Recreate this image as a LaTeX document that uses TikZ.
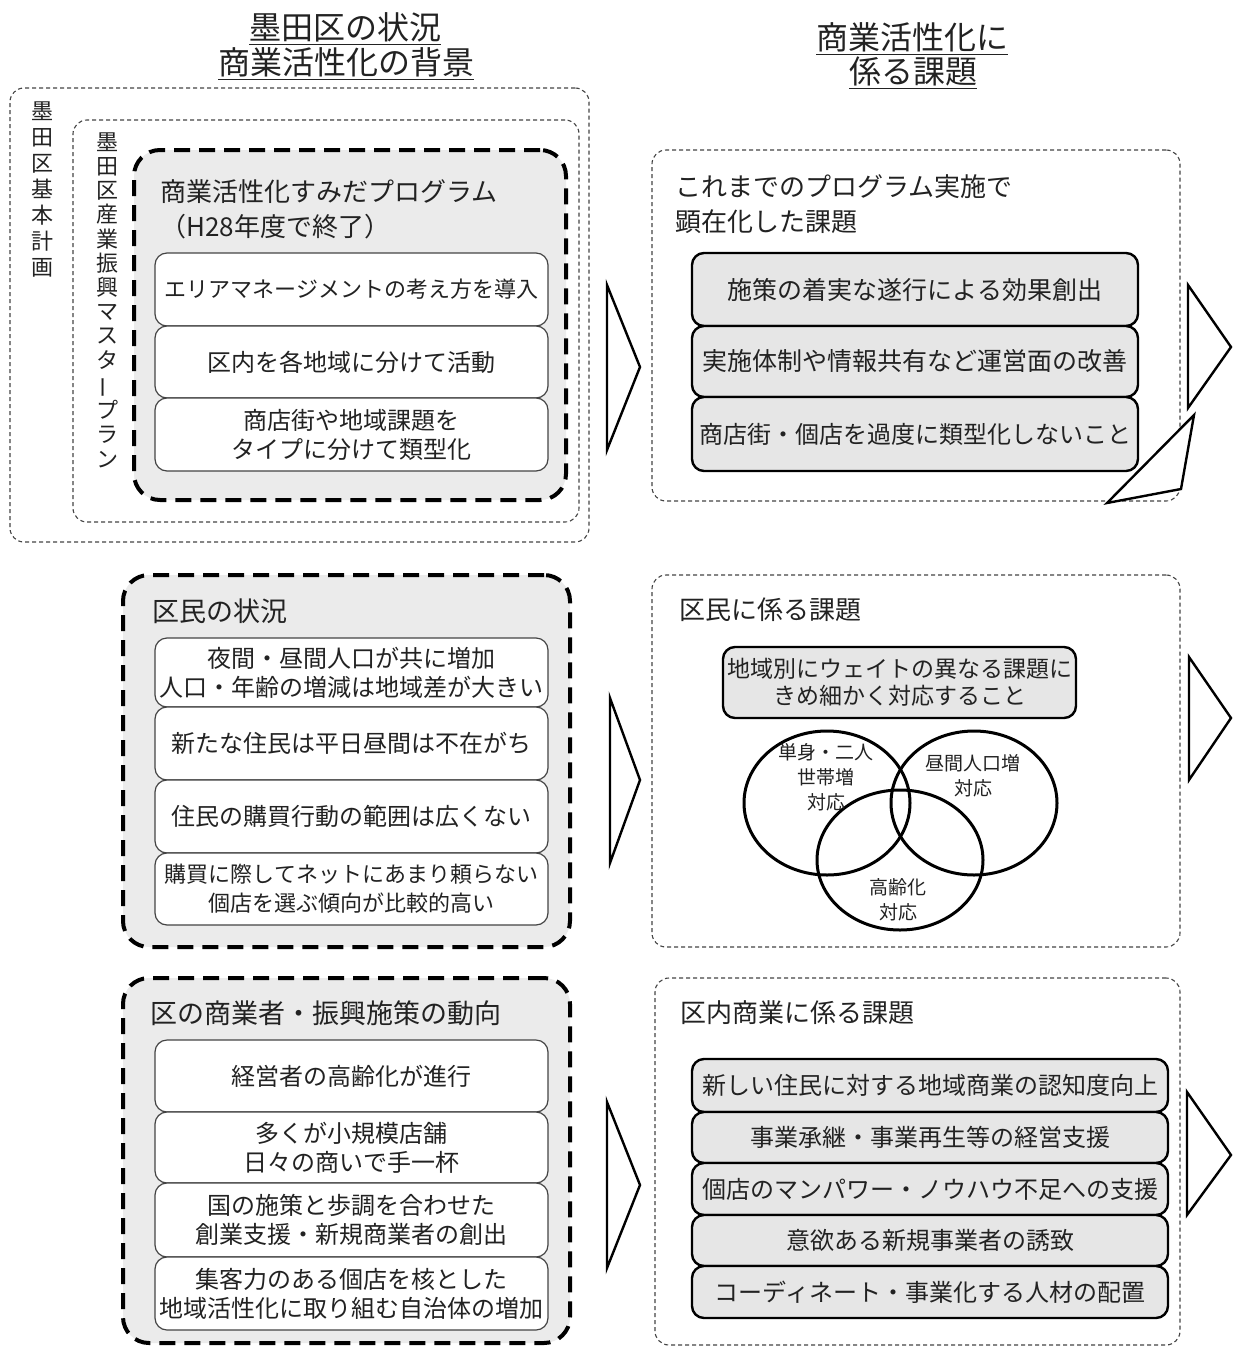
\documentclass[tikz,border=0pt]{standalone}
\usepackage{fontspec}
\setmainfont{Noto Sans CJK JP}
\usetikzlibrary{shapes.geometric}
\definecolor{ink}{HTML}{222222}
\definecolor{panel}{HTML}{EBEBEB}
\definecolor{issue}{HTML}{E6E6E6}
\definecolor{thinline}{HTML}{444444}
\newcommand\pxbox[7]{%
  \pgfmathsetmacro\pxbw{(#4-#2)*0.5}%
  \pgfmathsetmacro\pxbh{(#5-#3)*0.5}%
  \node[#6, minimum width=\pxbw pt, minimum height=\pxbh pt] (#1) at ({(#2+#4)/2},{(#3+#5)/2}) {#7};}
\tikzset{
  frame/.style={draw=thinline, line width=0.55pt, dash pattern=on 2pt off 1.5pt, rounded corners=7pt, inner sep=0pt},
  panelbox/.style={draw=black, fill=panel, line width=2pt, dash pattern=on 8pt off 4.5pt, rounded corners=13pt, inner sep=0pt},
  item/.style={draw=thinline, fill=white, line width=0.6pt, rounded corners=6pt, inner sep=0pt, align=center, font=\fontsize{12}{14.5}\selectfont, text=ink},
  issuebox/.style={draw=black, fill=issue, line width=1.2pt, rounded corners=6pt, inner sep=0pt, align=center, font=\fontsize{12}{14.5}\selectfont, text=ink},
  heading/.style={font=\fontsize{16}{18}\selectfont, text=ink, inner sep=0pt},
  boxtitle/.style={anchor=west, align=left, font=\fontsize{13}{17.5}\selectfont, text=ink, inner sep=0pt},
  arrowtri/.style={draw=black, fill=white, line width=1.2pt, line join=miter},
  venn/.style={ellipse, draw=black, line width=1.5pt, inner sep=0pt},
  vlabel/.style={font=\fontsize{9.5}{12.5}\selectfont, text=ink, align=center, inner sep=0pt},
  vtext/.style={align=center, text=ink, inner sep=0pt}
}
\begin{document}
\begin{tikzpicture}[x=0.5pt, y=-0.5pt]
\useasboundingbox[fill=white] (0,0) rectangle (1232,1349);

% headings
\node[heading] (hl1) at (345,29) {\underline{墨田区の状況}};
\node[heading] (hl2) at (346,64) {\underline{商業活性化の背景}};
\node[heading] (hr1) at (912,39) {\underline{商業活性化に}};
\node[heading] (hr2) at (913,73) {\underline{係る課題}};

% ---------- row 1 left ----------
\pxbox{plan1}{10}{88}{589}{542}{frame}{}
\pxbox{plan2}{73}{120}{579}{522}{frame}{}
\node[vtext, font=\fontsize{11}{13}\selectfont] (plan1label) at (43,190) {墨\\田\\区\\基\\本\\計\\画};
\node[vtext, font=\fontsize{11}{12.1}\selectfont] (plan2label) at (107,300) {墨\\田\\区\\産\\業\\振\\興\\マ\\ス\\タ\\\rotatebox[origin=c]{90}{ー}\\プ\\ラ\\ン};
\pxbox{prog}{134}{150}{566}{500}{panelbox}{}
\node[boxtitle] (progtitle) at (160,209) {商業活性化すみだプログラム\\（H28年度で終了）};
\pxbox{p1}{155}{253}{548}{326}{item, font=\fontsize{11}{14}\selectfont}{エリアマネージメントの考え方を導入}
\pxbox{p2}{155}{326}{548}{398}{item}{区内を各地域に分けて活動}
\pxbox{p3}{155}{398}{548}{471}{item}{商店街や地域課題を\\タイプに分けて類型化}

% ---------- row 1 right ----------
\pxbox{iss1}{652}{150}{1180}{501}{frame}{}
\node[boxtitle] (iss1title) at (675,204) {これまでのプログラム実施で\\顕在化した課題};
\pxbox{i1}{692}{253}{1138}{326}{issuebox, font=\fontsize{12.5}{15}\selectfont}{施策の着実な遂行による効果創出}
\pxbox{i2}{692}{326}{1138}{397}{issuebox, font=\fontsize{12.5}{15}\selectfont}{実施体制や情報共有など運営面の改善}
\pxbox{i3}{692}{397}{1138}{471}{issuebox}{商店街・個店を過度に類型化しないこと}

% ---------- row 2 left ----------
\pxbox{resid}{123}{575}{570}{947}{panelbox}{}
\node[boxtitle, font=\fontsize{13.5}{17.5}\selectfont] (residtitle) at (152,611) {区民の状況};
\pxbox{r1}{155}{638}{548}{707}{item}{夜間・昼間人口が共に増加\\人口・年齢の増減は地域差が大きい}
\pxbox{r2}{155}{707}{548}{780}{item}{新たな住民は平日昼間は不在がち}
\pxbox{r3}{155}{780}{548}{853}{item}{住民の購買行動の範囲は広くない}
\pxbox{r4}{155}{853}{548}{925}{item, font=\fontsize{11}{14.5}\selectfont}{購買に際してネットにあまり頼らない\\個店を選ぶ傾向が比較的高い}

% ---------- row 2 right ----------
\pxbox{iss2}{652}{575}{1180}{947}{frame}{}
\node[boxtitle] (iss2title) at (679,610) {区民に係る課題};
\pxbox{i21}{723}{647}{1076}{718}{issuebox, font=\fontsize{11.5}{13.5}\selectfont}{地域別にウェイトの異なる課題に\\きめ細かく対応すること}
\node[venn, minimum width=83pt, minimum height=72pt] (va) at (827,803) {};
\node[venn, minimum width=83pt, minimum height=72pt] (vb) at (974,803) {};
\node[venn, minimum width=83pt, minimum height=70pt] (vc) at (900,860) {};
\node[vlabel] (vla) at (826,777) {単身・二人\\世帯増\\対応};
\node[vlabel] (vlb) at (973,776) {昼間人口増\\対応};
\node[vlabel] (vlc) at (898,900) {高齢化\\対応};

% ---------- row 3 left ----------
\pxbox{comm}{123}{978}{570}{1343}{panelbox}{}
\node[boxtitle, font=\fontsize{13.5}{17.5}\selectfont] (commtitle) at (150,1013) {区の商業者・振興施策の動向};
\pxbox{c1}{155}{1040}{548}{1112}{item}{経営者の高齢化が進行}
\pxbox{c2}{155}{1112}{548}{1183}{item}{多くが小規模店舗\\日々の商いで手一杯}
\pxbox{c3}{155}{1183}{548}{1257}{item}{国の施策と歩調を合わせた\\創業支援・新規商業者の創出}
\pxbox{c4}{155}{1257}{548}{1330}{item}{集客力のある個店を核とした\\地域活性化に取り組む自治体の増加}

% ---------- row 3 right ----------
\pxbox{iss3}{655}{978}{1180}{1345}{frame}{}
\node[boxtitle] (iss3title) at (680,1013) {区内商業に係る課題};
\pxbox{j1}{692}{1059}{1168}{1112}{issuebox}{新しい住民に対する地域商業の認知度向上}
\pxbox{j2}{692}{1112}{1168}{1163}{issuebox}{事業承継・事業再生等の経営支援}
\pxbox{j3}{692}{1163}{1168}{1215}{issuebox}{個店のマンパワー・ノウハウ不足への支援}
\pxbox{j4}{692}{1215}{1168}{1266}{issuebox}{意欲ある新規事業者の誘致}
\pxbox{j5}{692}{1266}{1168}{1318}{issuebox}{コーディネート・事業化する人材の配置}

% ---------- arrow triangles ----------
\draw[arrowtri] (607,285) -- (640,367) -- (607,450) -- cycle;
\draw[arrowtri] (610,698) -- (640,780) -- (610,863) -- cycle;
\draw[arrowtri] (607,1102) -- (640,1185) -- (607,1268) -- cycle;
\draw[arrowtri] (1188,285) -- (1231,347) -- (1188,408) -- cycle;
\draw[arrowtri] (1189,657) -- (1231,718) -- (1189,780) -- cycle;
\draw[arrowtri] (1187,1092) -- (1231,1155) -- (1187,1215) -- cycle;
\draw[arrowtri] (1107,503) -- (1194,415) -- (1181,489) -- cycle;
\end{tikzpicture}
\end{document}
